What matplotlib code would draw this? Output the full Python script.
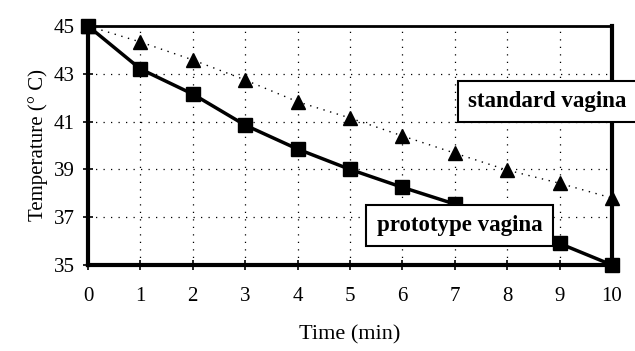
import matplotlib.pyplot as plt
import matplotlib as mpl

mpl.rcParams.update({
    'font.family': 'serif',
    'font.serif': ['Liberation Serif', 'DejaVu Serif'],
})

time_min = [0, 1, 2, 3, 4, 5, 6, 7, 8, 9, 10]
prototype = [45.0, 43.2, 42.15, 40.85, 39.85, 39.0, 38.25, 37.55, 36.7, 35.9, 35.0]
standard = [45.0, 44.33, 43.58, 42.74, 41.83, 41.15, 40.4, 39.68, 38.97, 38.42, 37.8]
x_ticks = list(range(0, 11))
y_ticks = [35, 37, 39, 41, 43, 45]

fig = plt.figure(figsize=(6.35, 3.51), dpi=100)
ax = fig.add_axes([0.1386, 0.245, 0.8252, 0.681])

ax.plot(time_min, standard, color='black', linestyle=(0, (1, 4)), linewidth=1,
        marker='^', markersize=10, markerfacecolor='black', markeredgecolor='black',
        zorder=3, clip_on=False)
ax.plot(time_min, prototype, color='black', linewidth=2.5,
        marker='s', markersize=10, markerfacecolor='black', markeredgecolor='black',
        zorder=6, clip_on=False)

ax.set_xlim(0, 10)
ax.set_ylim(35, 45)
ax.set_xticks(x_ticks)
ax.set_yticks(y_ticks)
ax.tick_params(direction='inout', length=7, width=1.2, labelsize=15)
ax.tick_params(axis='x', pad=12)
ax.tick_params(axis='y', pad=6)
ax.grid(True, color='black', linestyle=(0, (1, 5)), linewidth=0.9)
for s in ['left', 'bottom', 'right']:
    ax.spines[s].set_linewidth(3)
ax.spines['top'].set_linewidth(2)
for sp in ax.spines.values():
    sp.set_zorder(5)

ax.set_xlabel('Time (min)', fontsize=16, labelpad=14)
ax.set_ylabel('Temperature (° C)', fontsize=15, labelpad=4)

box = dict(boxstyle='square,pad=0.45', facecolor='white', edgecolor='black', linewidth=1.5)
ax.text(0.876, 0.684, 'standard vagina', transform=ax.transAxes, fontsize=16.5,
        fontweight='bold', ha='center', va='center', bbox=box, zorder=7, clip_on=False)
ax.text(0.709, 0.165, 'prototype vagina', transform=ax.transAxes, fontsize=16.5,
        fontweight='bold', ha='center', va='center', bbox=box, zorder=7)

fig.savefig('out.png', dpi=100)
